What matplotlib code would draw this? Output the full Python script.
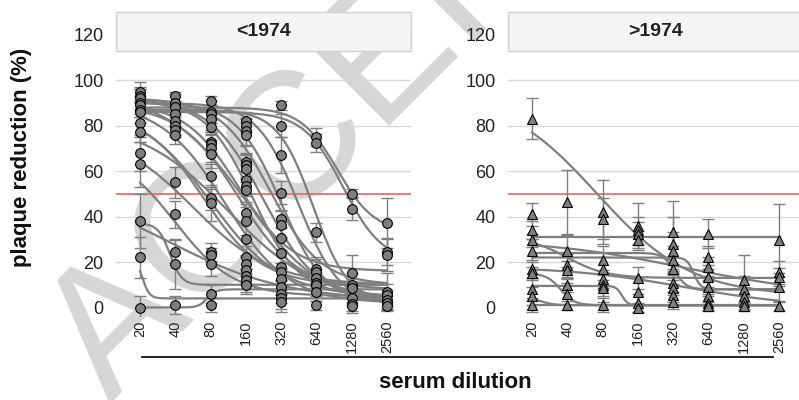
import numpy as np
import matplotlib
matplotlib.use("Agg")
import matplotlib.pyplot as plt
from matplotlib.patches import Rectangle

plt.rcParams['font.family'] = ['Liberation Sans', 'DejaVu Sans']

dilutions = [20, 40, 80, 160, 320, 640, 1280, 2560]
panel_titles = ['<1974', '>1974']
yticks = [0, 20, 40, 60, 80, 100, 120]

# measured points per dilution (% plaque reduction) and their error bars
old_points = [
    [95, 93, 92, 90, 89, 87, 86, 81, 77, 68, 63, 38, 22, 0],
    [93, 90, 88, 85, 82, 80, 78, 76, 55, 41, 24.5, 19, 1],
    [91, 86, 85, 83, 79.5, 73, 72, 70, 67.5, 58, 48, 46, 24.5, 23, 19, 6, 1],
    [82, 80, 77.5, 76, 64, 62.5, 61, 56, 53.5, 51.5, 41.5, 38, 30, 22, 19, 16.5, 14, 12, 10],
    [89, 80, 67, 50.5, 39, 36.5, 30.5, 24, 18, 15.5, 12.5, 9, 6, 4, 2.5],
    [75, 72.5, 33, 17, 15.5, 13, 11, 10, 7, 1],
    [50, 43.5, 15, 10, 8.5, 4, 1.5, 0.5],
    [37, 24.5, 23, 7, 5.5, 3.5, 2, 0.5],
]
old_errs = [
    [4, 3, 5, 6, 4, 3, 5, 6, 4, 8, 10, 12, 9, 5],
    [2, 4, 3, 5, 6, 4, 3, 4, 7, 6, 5, 11, 4],
    [2, 5, 4, 6, 3, 5, 4, 7, 6, 6, 5, 8, 4, 3, 5, 4, 3],
    [4, 3, 6, 5, 4, 5, 6, 7, 3, 5, 4, 6, 8, 5, 4, 6, 3, 5, 4],
    [2, 5, 8, 5, 4, 6, 5, 7, 6, 4, 5, 3, 4, 6, 3],
    [4, 4, 4, 5, 6, 4, 3, 5, 4, 2],
    [2, 5, 8, 5, 4, 3, 4, 2],
    [11, 6, 7, 8, 5, 4, 3, 2],
]
new_points = [
    [83, 41, 34, 29.5, 25, 17, 15, 8, 5, 1],
    [46.5, 25, 18.5, 16.5, 10, 6, 1],
    [42, 39, 21, 17, 12.5, 10, 8.5, 1],
    [36, 34, 32.5, 29.5, 13, 7, 2, 0],
    [33, 28, 25, 21, 17, 11, 8.5, 5.5, 2.5],
    [32.5, 22, 18, 13.5, 9, 5, 2, 0.5],
    [12, 8, 5, 2.5, 0.5],
    [29.5, 15.5, 13.5, 9, 0.5],
]
new_errs = [
    [9, 5, 4, 3, 5, 4, 3, 5, 4, 3],
    [14, 7, 5, 4, 3, 5, 2],
    [14, 9, 6, 5, 4, 5, 6, 3],
    [10, 6, 5, 4, 5, 6, 4, 2],
    [14, 12, 8, 6, 5, 4, 6, 5, 3],
    [6.5, 5, 4, 5, 3, 4, 3, 2],
    [11, 6, 4, 3, 2],
    [16, 5, 4, 6, 2],
]

# fitted dose-response curves: top, bottom, EC50 (dilution), hill slope (per doubling)
old_top = [88, 86, 90, 92, 91, 89, 94, 90, 88, 86, 82, 78, 70, 37, 22, 0, 55, 90, 92, 90, 87]
old_bottom = [33, 20, 2, 3, 5, 8, 0, 2, 5, 10, 3, 10, 5, 10, 4, 8, 3, 16, 10, 1, 2]
old_ec50 = [970, 1080, 320, 226, 184, 139, 160, 106, 80, 70, 113, 57, 40, 36, 21, 75, 35, 139, 260, 450, 600]
old_slope = [1.9, 1.8, 1.6, 1.3, 1.5, 1.2, 0.9, 1.1, 1.0, 1.2, 0.8, 0.9, 1.2, 6, 10, 8, 0.6, 1.3, 1.4, 1.7, 2.0]

new_top = [95, 31, 30, 31, 24, 22, 18, 15, 9.5, 5, 1]
new_bottom = [5, 31, 5, 13, 8, 8, 0, 1, 1, 1, 1]
new_ec50 = [72, 100, 400, 40, 330, 480, 400, 35, 117, 23, 100]
new_slope = [0.75, 1, 0.5, 1.8, 6, 10, 0.6, 5, 12, 5, 1]

grey = '#7f7f7f'
W, H = 799, 400
fig = plt.figure(figsize=(W / 100, H / 100), dpi=100)

# watermark behind everything
fig.text(110 / W, 1 - 405 / H, 'ACCEPTED', fontsize=130, rotation=45,
         rotation_mode='anchor', ha='left', va='baseline', color='#d6d6d6', zorder=-5)

xs = np.log2(np.array(dilutions) / 20.0)
xfine = np.linspace(0, 7, 400)

panels = [
    (116, old_points, old_errs, old_top, old_bottom, old_ec50, old_slope, 'o', 7.0),
    (508, new_points, new_errs, new_top, new_bottom, new_ec50, new_slope, '^', 7.0),
]
for i, (left, pts, errs, top, bot, ec, sl, mk, ms) in enumerate(panels):
    ax = fig.add_axes([left / W, 1 - 316.6 / H, 295 / W, (316.6 - 12) / H])
    ax.set_facecolor('none')
    ax.set_xlim(-0.68, 7.68)
    ax.set_ylim(-4, 130)
    for s in ax.spines.values():
        s.set_visible(False)
    for g in [20, 40, 60, 80, 100]:
        ax.axhline(g, color='#d9d9d9', lw=1, zorder=1)
    ax.axhline(50, color='#ec6f6f', lw=1.3, zorder=2)

    for k, x in enumerate(xs):
        ax.errorbar([x] * len(pts[k]), pts[k], yerr=errs[k], fmt='none', ecolor=grey,
                    elinewidth=1, capsize=4, capthick=1, zorder=3)
    for t, b, e, s in zip(top, bot, ec, sl):
        x50 = np.log2(e / 20.0)
        ax.plot(xfine, b + (t - b) / (1 + np.exp(s * (xfine - x50))), color=grey, lw=1.6, zorder=4)
    for k, x in enumerate(xs):
        ax.plot([x] * len(pts[k]), pts[k], ls='none', marker=mk, ms=ms, mfc=grey,
                mec='black', mew=0.8, zorder=5)

    ax.add_patch(Rectangle((-0.68, 112.7), 8.36, 17.3, facecolor='#f3f4f4',
                           edgecolor='#d0d0d0', lw=1, zorder=6, clip_on=False))
    ax.text(3.5, 121.3, panel_titles[i], ha='center', va='center', fontsize=14,
            fontweight='bold', color='#222222', zorder=7)

    ax.set_yticks(yticks)
    ax.set_yticklabels([str(v) for v in yticks], fontsize=13, color='#222222')
    ax.set_xticks(xs)
    ax.set_xticklabels([str(d) for d in dilutions], rotation=90, fontsize=10.5, color='#222222')
    ax.tick_params(axis='y', length=0, pad=9)
    ax.tick_params(axis='x', length=0, pad=3)

fig.add_artist(plt.Line2D([142 / W, 773 / W], [1 - 357 / H, 1 - 357 / H], color='#111111', lw=1.3))
fig.text(455 / W, 1 - 383 / H, 'serum dilution', ha='center', va='center',
         fontsize=16, fontweight='bold', color='#111111')
fig.text(22 / W, 1 - 157 / H, 'plaque reduction (%)', ha='center', va='center', rotation=90,
         fontsize=16, fontweight='bold', color='#111111')

fig.savefig('out.png', dpi=100)
